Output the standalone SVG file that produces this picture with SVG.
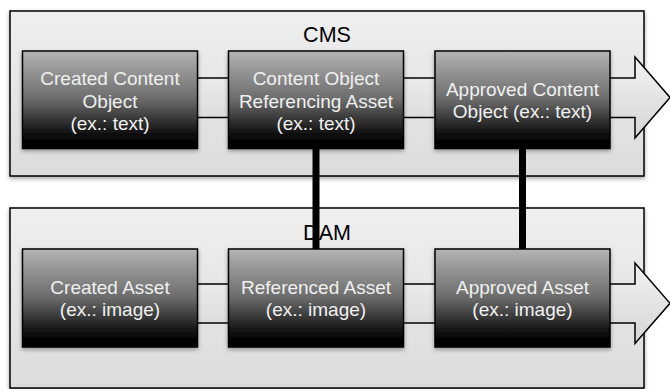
<svg xmlns="http://www.w3.org/2000/svg" width="670" height="389" viewBox="0 0 670 389">
  <defs>
    <linearGradient id="gCont" x1="0" y1="0" x2="0" y2="1">
      <stop offset="0" stop-color="#efefef"/>
      <stop offset="1" stop-color="#dcdcdc"/>
    </linearGradient>
    <linearGradient id="gArrow" x1="0" y1="0" x2="0" y2="1">
      <stop offset="0" stop-color="#f2f2f2"/>
      <stop offset="1" stop-color="#d6d6d6"/>
    </linearGradient>
    <linearGradient id="gBox" x1="0" y1="0" x2="0" y2="1">
      <stop offset="0" stop-color="#b4b4b4"/>
      <stop offset="0.5" stop-color="#6a6a6a"/>
      <stop offset="0.88" stop-color="#080808"/>
      <stop offset="1" stop-color="#000"/>
    </linearGradient>
    <filter id="shadow" x="-10%" y="-10%" width="120%" height="130%">
      <feDropShadow dx="0" dy="2" stdDeviation="2" flood-color="#000" flood-opacity="0.35"/>
    </filter>
  </defs>
  <style>
    .cont { fill: url(#gCont); stroke: #000; stroke-width: 1.5; filter: url(#shadow); }
    .clabel { font-family: "Liberation Sans", Arial, sans-serif; font-size: 21.5px; fill: #000; text-anchor: middle; }
    .arrow { fill: url(#gArrow); stroke: #000; stroke-width: 1.5; stroke-linejoin: miter; }
    .box { fill: url(#gBox); stroke: #000; stroke-width: 1.5; filter: url(#shadow); }
    .btext { font-family: "Liberation Sans", Arial, sans-serif; font-size: 19px; fill: #f0f0f0; text-anchor: middle; }
    .link { stroke: #000; stroke-width: 7; fill: none; }
  </style>

  <g id="cms-container">
    <rect class="cont" x="10" y="11" width="634" height="165"/>
    <text class="clabel" x="327" y="42">CMS</text>
  </g>
  <g id="dam-container">
    <rect class="cont" x="10" y="208" width="634" height="180"/>
    <text class="clabel" x="327" y="240">DAM</text>
  </g>

  <g id="connectors">
    <polygon class="arrow" points="40,78 635,78 635,57 670,97.5 635,138 635,117.5 40,117.5"/>
    <polygon class="arrow" points="40,284 635,284 635,263 670,303.3 635,343.5 635,323 40,323"/>
  </g>

  <g id="node-created-content">
    <rect class="box" x="22.5" y="51" width="175" height="97.5"/>
    <text class="btext" x="110" y="85">Created Content</text>
    <text class="btext" x="110" y="107.5">Object</text>
    <text class="btext" x="110" y="130">(ex.: text)</text>
  </g>
  <g id="node-content-referencing">
    <rect class="box" x="228.5" y="51" width="175" height="97.5"/>
    <text class="btext" x="316" y="85">Content Object</text>
    <text class="btext" x="316" y="107.5">Referencing Asset</text>
    <text class="btext" x="316" y="130">(ex.: text)</text>
  </g>
  <g id="node-approved-content">
    <rect class="box" x="435" y="51" width="175" height="97.5"/>
    <text class="btext" x="522.5" y="95.5">Approved Content</text>
    <text class="btext" x="522.5" y="117.5">Object (ex.: text)</text>
  </g>

  <g id="node-created-asset">
    <rect class="box" x="22.5" y="249" width="175" height="98"/>
    <text class="btext" x="110" y="294">Created Asset</text>
    <text class="btext" x="110" y="316">(ex.: image)</text>
  </g>
  <g id="node-referenced-asset">
    <rect class="box" x="228.5" y="249" width="175" height="98"/>
    <text class="btext" x="316" y="294">Referenced Asset</text>
    <text class="btext" x="316" y="316">(ex.: image)</text>
  </g>
  <g id="node-approved-asset">
    <rect class="box" x="435" y="249" width="175" height="98"/>
    <text class="btext" x="522.5" y="294">Approved Asset</text>
    <text class="btext" x="522.5" y="316">(ex.: image)</text>
  </g>

  <g id="links">
    <line class="link" x1="316" y1="148.5" x2="316" y2="249"/>
    <line class="link" x1="522.5" y1="148.5" x2="522.5" y2="249"/>
  </g>
</svg>
